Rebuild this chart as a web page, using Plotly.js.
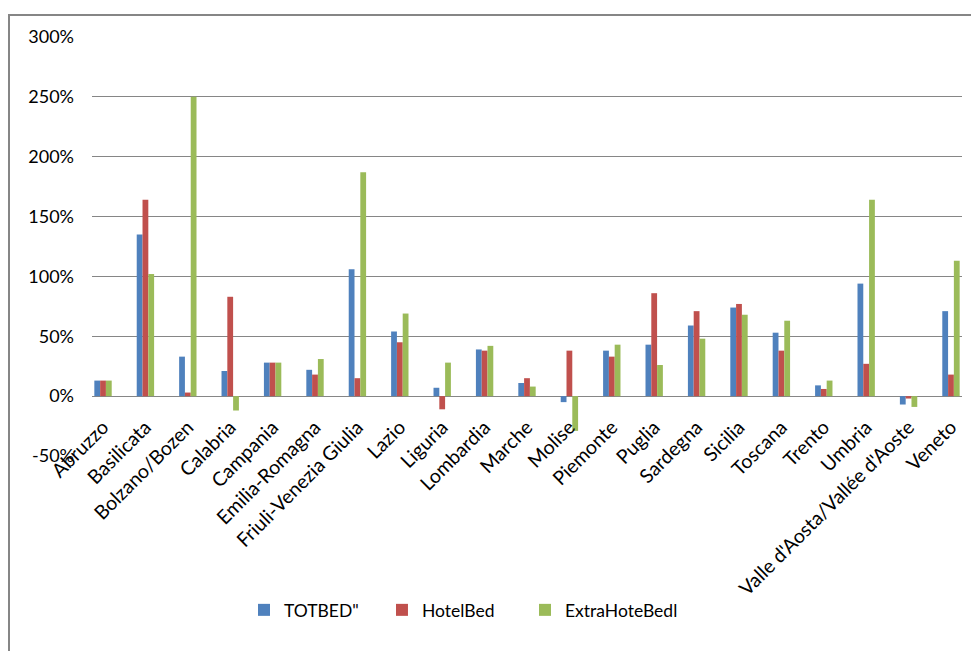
<!DOCTYPE html>
<html>
<head>
<meta charset="utf-8">
<script src="https://cdn.plot.ly/plotly-3.0.1.min.js"></script>
<style>html,body{margin:0;padding:0;background:#fff;}#chart{width:971px;height:651px;}</style>
</head>
<body>
<div id="chart"></div>
<script>
var categories = ["Abruzzo","Basilicata","Bolzano/Bozen","Calabria","Campania","Emilia-Romagna","Friuli-Venezia Giulia","Lazio","Liguria","Lombardia","Marche","Molise","Piemonte","Puglia","Sardegna","Sicilia","Toscana","Trento","Umbria","Valle d'Aosta/Vallée d'Aoste","Veneto"];
var totbed   = [13,135,33,21,28,22,106,54,7,39,11,-5,38,43,59,74,53,9,94,-7,71];
var hotelbed = [13,164,3,83,28,18,15,45,-11,38,15,38,33,86,71,77,38,6,27,-2,18];
var extrabed = [13,102,250,-12,28,31,187,69,28,42,8,-29,43,26,48,68,63,13,164,-9,113];
var seriesNames = ['TOTBED"', 'HotelBed', 'ExtraHoteBedl'];
var yTicks = [-50,0,50,100,150,200,250,300];
var yTickText = ["-50%","0%","50%","100%","150%","200%","250%","300%"];

var colors = ['#4F81BD','#C0504D','#9BBB59'];
var FONT = 'Lato, "Open Sans", sans-serif';
var legendIds = ['legend','legend2','legend3'];
var legendX = [0.1747, 0.3333, 0.4977];

var traces = [totbed, hotelbed, extrabed].map(function(vals, i){
  return {type:'bar', x:categories, y:vals, name:seriesNames[i], legend:legendIds[i],
    marker:{color:colors[i], line:{width:0}}, hoverinfo:'none'};
});

var layout = {
  width:971, height:651,
  margin:{l:92, r:9, t:37, b:195},
  paper_bgcolor:'#fff', plot_bgcolor:'#fff',
  font:{family:FONT, size:17, color:'#000'},
  barmode:'group', bargap:0.59, bargroupgap:0,
  xaxis:{type:'category', range:[-0.26, 20.26], anchor:'free', position:50/350,
    tickangle:-45, ticks:'', showgrid:false, showline:false, zeroline:false,
    ticklabelstandoff:15,
    tickfont:{family:FONT, size:19.5, color:'#000'}, automargin:false},
  yaxis:{range:[-50,300], tickmode:'array', tickvals:yTicks, ticktext:yTickText, ticks:'',
    showgrid:true, gridcolor:'#868686', gridwidth:1,
    zeroline:true, zerolinecolor:'#868686', zerolinewidth:1,
    showline:false, ticklabelstandoff:17,
    tickfont:{family:FONT, size:18, color:'#000'}, automargin:false},
  showlegend:true,
  shapes:[{type:'rect', xref:'paper', yref:'paper',
    x0:(9-92)/870, x1:(985-92)/870, y0:(456-665)/419, y1:(456-15)/419,
    line:{color:'#868686', width:2}, fillcolor:'rgba(0,0,0,0)', layer:'below'}]
};
legendIds.forEach(function(id, i){
  layout[id] = {orientation:'h', x:legendX[i], xanchor:'left', y:-0.3675, yanchor:'middle',
    font:{family:FONT, size:17.5, color:'#000'}, bgcolor:'rgba(0,0,0,0)'};
});

Plotly.newPlot('chart', traces, layout, {displayModeBar:false, staticPlot:true});
</script>
</body>
</html>
